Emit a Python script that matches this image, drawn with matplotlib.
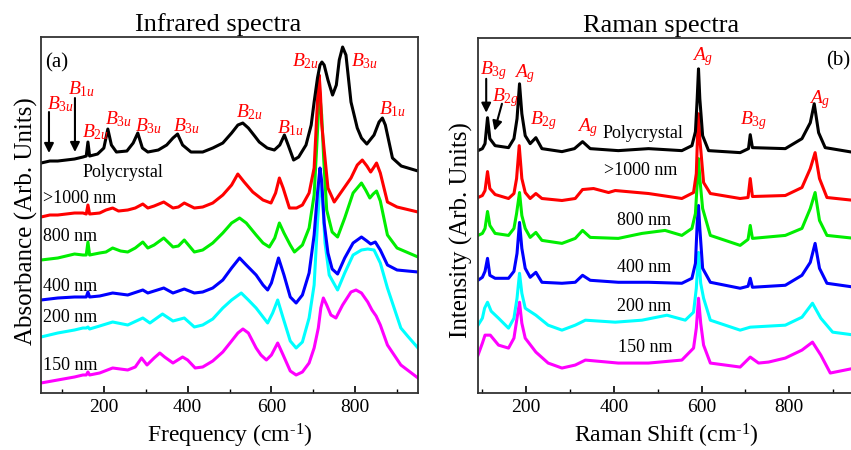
import matplotlib
matplotlib.use('Agg')
import matplotlib.pyplot as plt

plt.rcParams['font.family'] = 'Liberation Serif'
plt.rcParams['mathtext.fontset'] = 'custom'
plt.rcParams['mathtext.rm'] = 'Liberation Serif'
plt.rcParams['mathtext.it'] = 'Liberation Serif:italic'

# ---- data (arbitrary stacked units) ----
samples = ['Polycrystal', '>1000 nm', '800 nm', '400 nm', '200 nm', '150 nm']
colors = ['black', '#ff0000', '#00ee00', '#0000ff', '#00ffff', '#ff00ff']

# Infrared spectra
ir_poly_x = [50, 71, 90, 110, 130, 150, 158, 162, 166, 185, 200, 209.5, 218, 230, 255, 270, 281, 292, 305, 330, 350,
             365, 376, 388, 408, 436, 460, 484, 505, 520, 531.7, 545, 560, 571, 590, 607, 620, 631, 640, 653, 665,
             682.6, 695, 702, 710, 716, 720.6, 726, 735, 746, 755, 762, 770, 778, 790, 805, 815, 827.8, 845, 857,
             865, 872, 889, 910, 950]
ir_poly_y = [230, 232, 232, 233, 234, 236, 237, 251, 237, 239, 245, 264, 248, 241, 242, 250, 260, 245, 241, 243, 248,
             255, 259, 248, 241, 241, 245, 250, 260, 268, 270, 265, 257, 251, 245, 243, 248, 258, 248, 233, 236,
             248, 268, 291, 315, 328, 331, 328, 313, 298, 308, 333, 346, 338, 291, 265, 255, 249, 258, 271,
             275, 268, 235, 227, 222]
ir_1000_x = [50, 71, 90, 110, 130, 150, 158, 162, 166, 190, 205, 221, 235, 257, 275, 293, 305, 320, 343, 365, 378,
             392, 416, 436, 460, 484, 505, 519.8, 535, 555.5, 580, 599, 610, 619, 628, 643, 660, 674, 690, 702,
             708, 711, 714, 717, 720, 726, 735, 750, 765, 790, 805, 817, 828, 837, 845, 851, 860, 877, 900, 950]
ir_1000_y = [176, 178, 178, 179, 180, 180, 179, 188, 179, 180, 183, 185, 182, 183, 185, 189, 185, 187, 191, 185, 186,
             190, 185, 186, 190, 198, 208, 219, 211, 201, 193, 190, 200, 215, 205, 185, 185, 188, 200, 225,
             275, 300, 318, 300, 270, 243, 205, 191, 200, 215, 228, 233, 227, 221, 226, 230, 220, 191, 186, 181]
ir_800_x = [50, 90, 110, 130, 150, 158, 162, 166, 190, 205, 221, 240, 257, 275, 293, 305, 320, 343, 365, 378, 392,
            416, 436, 460, 484, 505, 524, 540, 563.5, 580, 595, 608, 619, 630, 645, 655, 674, 690, 702, 708, 712,
            716, 720, 725, 732, 745, 758, 775, 795, 815, 825, 835, 843, 851, 860, 877, 900, 950]
ir_800_y = [133, 135, 137, 139, 138, 138, 151, 138, 140, 141, 145, 142, 141, 145, 151, 145, 148, 155, 146, 147, 153,
            141, 143, 150, 160, 170, 175, 170, 158, 150, 146, 155, 170, 160, 148, 141, 148, 165, 198, 245, 278,
            296, 278, 233, 183, 161, 156, 175, 200, 210, 203, 195, 199, 202, 192, 158, 145, 136]
ir_400_x = [50, 90, 130, 150, 158, 162, 166, 190, 221, 257, 293, 305, 343, 365, 392, 416, 436, 460, 484, 505, 524,
            540, 563.5, 580, 591, 600, 617, 630, 645, 659, 674, 690, 702, 710, 716, 720, 726, 735, 745, 758, 775,
            795, 815, 828, 837, 848, 860, 877, 900, 950]
ir_400_y = [93, 95, 96, 96, 96, 101, 96, 97, 100, 98, 103, 100, 105, 100, 104, 100, 101, 105, 113, 125, 135,
            128, 118, 108, 103, 110, 135, 118, 96, 90, 98, 120, 158, 200, 225, 212, 170, 140, 124, 119, 135,
            150, 156, 152, 149, 151, 143, 128, 123, 121]
ir_200_x = [50, 90, 130, 150, 158, 162, 166, 190, 221, 257, 293, 310, 340, 365, 392, 416, 436, 460, 484, 505, 528,
            545, 563.5, 580, 591, 603, 615, 628, 645, 659, 674, 690, 702, 710, 717, 722, 728, 738, 758, 775, 795,
            815, 830, 845, 860, 877, 909, 925, 950]
ir_200_y = [56, 60, 63, 65, 65, 66, 64, 67, 71, 68, 75, 70, 79, 72, 75, 66, 68, 74, 85, 93, 100,
            93, 85, 76, 70, 80, 93, 75, 52, 45, 51, 75, 108, 170, 213, 195, 150, 118, 103, 120, 138,
            143, 144, 143, 130, 105, 65, 57, 45]
ir_150_x = [50, 90, 130, 150, 158, 162, 166, 190, 221, 257, 275, 290, 303, 320, 333.6, 345, 365, 388, 400, 418, 436,
            460, 484, 505, 520, 532, 545, 563.5, 575, 588, 600, 615, 628, 645, 659, 674, 690, 702, 712, 718, 724,
            732, 742, 754, 770, 790, 802, 815, 830, 840, 850, 860, 877, 909, 950]
ir_150_y = [10, 13, 16, 18, 18, 21, 18, 20, 25, 23, 26, 35, 28, 35, 40, 36, 30, 36, 33, 25, 26,
            32, 41, 52, 60, 64, 60, 45, 38, 33, 38, 50, 38, 22, 18, 21, 30, 45, 65, 85, 95,
            88, 78, 75, 88, 101, 103, 100, 91, 83, 77, 68, 48, 28, 15]

# Raman spectra
ra_poly_x = [90, 100, 106, 111.7, 117, 129, 159.6, 172, 179, 184.7, 190, 197.7, 209, 222, 235.8, 281.5, 310, 328.5,
             346, 410, 479, 555, 578, 586, 590, 593, 596, 602.4, 616, 688, 707, 711, 716, 791, 829, 848, 857, 867,
             882, 950]
ra_poly_y = [243, 245, 250, 276, 255, 248, 246, 255, 275, 310, 280, 258, 250, 256, 245, 242, 245, 252,
             245, 243, 245, 243, 248, 262, 295, 325, 295, 258, 243, 241, 245, 259, 246, 245, 255, 271, 290, 261,
             246, 241]
ra_1000_x = [90, 100, 106, 111.7, 117, 129, 159.6, 172, 178, 184, 190, 197.7, 209, 222, 235.8, 281.5, 311.8, 328.5,
             353.6, 387.8, 403, 479, 555, 581.7, 588, 591, 593, 596, 604.6, 620, 688, 706, 711, 716, 791, 829, 848,
             859, 869, 886, 950]
ra_1000_y = [196, 198, 203, 222, 205, 199, 195, 200, 215, 248, 215, 201, 195, 200, 195, 193, 195, 204,
             205, 201, 203, 200, 195, 201, 220, 260, 280, 255, 211, 200, 195, 196, 215, 197, 198, 206, 225,
             241, 215, 196, 193]
ra_800_x = [90, 100, 106, 111.7, 117, 129, 159.6, 172, 178, 184.7, 190, 197.7, 209, 222, 235.8, 281.5, 311.8, 328.5,
            346, 410, 464, 516.7, 555, 578, 586, 590, 593, 596, 602.4, 620, 688, 706, 711, 716, 791, 829, 848,
            859, 869, 886, 950]
ra_800_y = [158, 160, 165, 182, 168, 160, 158, 165, 180, 201, 178, 165, 156, 161, 153, 150, 155, 163,
            156, 155, 160, 163, 158, 165, 180, 210, 235, 215, 185, 158, 148, 154, 168, 155, 158, 165, 185,
            201, 173, 158, 155]
ra_400_x = [90, 100, 106, 111.7, 117, 129, 159.6, 172, 179, 184.7, 190, 197.7, 209, 222, 235.8, 281.5, 311.8, 328.5,
            346, 410, 479, 555, 578, 586, 590, 593, 596, 602.4, 620, 688, 706, 711, 716, 791, 829, 848, 859, 869,
            886, 950]
ra_400_y = [113, 116, 122, 135, 118, 115, 115, 122, 140, 171, 145, 125, 116, 121, 111, 110, 111, 118,
            113, 111, 111, 110, 115, 130, 170, 188, 165, 125, 111, 105, 107, 115, 106, 108, 118, 131, 150, 125,
            110, 106]
ra_200_x = [90, 100, 105, 111.7, 120, 136.8, 159.6, 172, 179, 184.7, 190, 197.7, 222, 250, 281.5, 311.8, 335, 403,
            464, 521, 562.8, 581.7, 588, 593, 598, 604.6, 620, 688, 711, 791, 829, 853, 872, 899, 950]
ra_200_y = [68, 75, 85, 91, 82, 75, 65, 75, 95, 120, 100, 85, 78, 68, 63, 68, 73, 71,
            73, 78, 73, 81, 105, 141, 110, 95, 73, 63, 66, 68, 76, 90, 75, 61, 58]
ra_150_x = [90, 100, 106, 118, 136.8, 159.6, 172, 179, 184.7, 190, 197.7, 222, 250, 281.5, 311.8, 335, 410, 479,
            555, 581.7, 588, 593, 598, 604.6, 620, 688, 711, 730, 752.8, 791, 829, 853, 872, 893.6, 950]
ra_150_y = [38, 50, 58, 58, 48, 45, 55, 75, 91, 70, 55, 41, 30, 25, 28, 33, 30, 30,
            33, 45, 65, 95, 70, 48, 30, 26, 36, 30, 31, 35, 43, 51, 38, 20, 25]

# mode labels: x, y, letter, subscript
ir_modes_x = [64, 114, 147.6, 202, 274, 364, 516, 614, 650, 790, 857]
ir_modes_y = [284, 299, 256, 269, 262, 262, 276, 260, 327, 327, 279]
ir_modes_sub = ['3u', '1u', '2u', '3u', '3u', '3u', '2u', '1u', '2u', '3u', '1u']
ra_modes_x = [93.5, 121.7, 171, 209, 315.7, 578, 688, 846]
ra_modes_y = [320, 292, 317, 269, 262, 334, 269, 290]
ra_modes_let = ['B', 'B', 'A', 'B', 'A', 'A', 'B', 'A']
ra_modes_sub = ['3g', '2g', 'g', '2g', 'g', 'g', '3g', 'g']

# sample name positions
ir_name_x = [150, 55, 55, 55, 55, 55]
ir_name_y = [221, 195, 157, 106, 75, 27]
ra_name_x = [375, 378, 407, 407, 407, 410]
ra_name_y = [260, 223, 173, 126, 87, 46]

ir_x = [ir_poly_x, ir_1000_x, ir_800_x, ir_400_x, ir_200_x, ir_150_x]
ir_y = [ir_poly_y, ir_1000_y, ir_800_y, ir_400_y, ir_200_y, ir_150_y]
ra_x = [ra_poly_x, ra_1000_x, ra_800_x, ra_400_x, ra_200_x, ra_150_x]
ra_y = [ra_poly_y, ra_1000_y, ra_800_y, ra_400_y, ra_200_y, ra_150_y]

fig = plt.figure(figsize=(8.51, 4.5), dpi=100)
ax1 = fig.add_axes([0.0482, 0.1267, 0.443, 0.791])
ax2 = fig.add_axes([0.5617, 0.1267, 0.443, 0.789])


def style_axes(ax, xlim, title, title_x, xlabel, ylabel, ylab_xy):
    ax.set_xlim(xlim)
    ax.set_ylim(0, 356)
    ax.set_yticks([])
    ax.set_xticks([200, 400, 600, 800])
    ax.set_xticks([100, 300, 500, 700, 900], minor=True)
    ax.tick_params(axis='x', which='major', direction='in', length=5, width=1.2, labelsize=14, pad=4)
    ax.tick_params(axis='x', which='minor', direction='in', length=3, width=1.0)
    for s in ax.spines.values():
        s.set_linewidth(1.3)
        s.set_color('#333333')
    ax.set_title(title, fontsize=19, pad=4, x=title_x)
    ax.set_xlabel(xlabel, fontsize=17)
    ax.xaxis.label.set_va('baseline')
    ax.xaxis.set_label_coords(0.5, -0.140)
    ax.set_ylabel(ylabel, fontsize=18)
    ax.yaxis.set_label_coords(*ylab_xy)


# Infrared panel
for i in range(len(samples))[::-1]:
    ax1.plot(ir_x[i], ir_y[i], color=colors[i], lw=2.2, solid_joinstyle='round')
for i in range(len(samples)):
    ax1.text(ir_name_x[i], ir_name_y[i], samples[i], fontsize=13, va='center', ha='left')
for x, y, s in zip(ir_modes_x, ir_modes_y, ir_modes_sub):
    ax1.text(x, y, r'$\mathit{B}_{\mathit{%s}}$' % s, color='red', fontsize=14, ha='left', va='baseline')
arrow = dict(arrowstyle='-|>', color='k', lw=1.5, mutation_scale=14, shrinkA=0, shrinkB=0)
ax1.annotate('', xy=(69, 240), xytext=(69, 281), arrowprops=arrow)
ax1.annotate('', xy=(131, 241), xytext=(131, 295), arrowprops=arrow)
ax1.text(59.5, 330, '(a)', fontsize=15, va='center', ha='left')
style_axes(ax1, (50, 950), 'Infrared spectra', 0.471, r'Frequency (cm$^{\text{-}1}$)',
           'Absorbance (Arb. Units)', (-0.008, 0.483))

# Raman panel
for i in range(len(samples))[::-1]:
    ax2.plot(ra_x[i], ra_y[i], color=colors[i], lw=2.2, solid_joinstyle='round')
for i in range(len(samples)):
    ax2.text(ra_name_x[i], ra_name_y[i], samples[i], fontsize=13, va='center', ha='left')
for x, y, l, s in zip(ra_modes_x, ra_modes_y, ra_modes_let, ra_modes_sub):
    ax2.text(x, y, r'$\mathit{%s}_{\mathit{%s}}$' % (l, s), color='red', fontsize=14, ha='left', va='baseline')
ax2.annotate('', xy=(108.7, 281), xytext=(108.7, 315), arrowprops=arrow)
ax2.annotate('', xy=(127.7, 263), xytext=(144.6, 290), arrowprops=arrow)
ax2.text(884.5, 333, '(b)', fontsize=15, va='center', ha='left')
style_axes(ax2, (90, 950), 'Raman spectra', 0.485, r'Raman Shift (cm$^{\text{-}1}$)',
           'Intensity (Arb. Units)', (-0.013, 0.46))

fig.savefig('out.png', dpi=100)
